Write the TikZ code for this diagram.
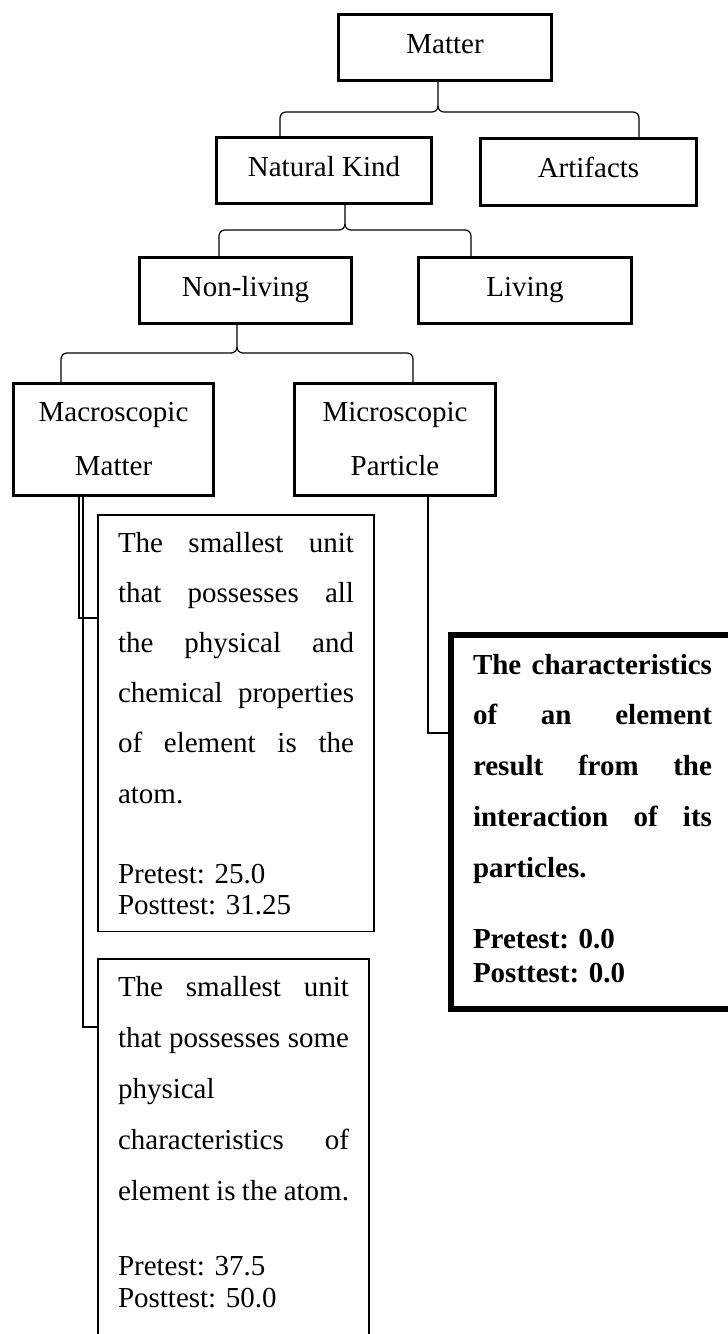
\documentclass[tikz,border=0pt]{standalone}
\usepackage{fontspec}
\setmainfont{Liberation Serif}
\usetikzlibrary{calc}
\setlength{\parindent}{0pt}
\AtBeginDocument{\frenchspacing}
% a line of text spread to a given width
\newcommand\spreadrow[2]{\hbox to #1{\spaceskip=0pt\xspaceskip=0pt #2}}
\begin{document}
\begin{tikzpicture}[x=1pt,y=-1pt,
  every node/.style={outer sep=0pt},
  cat/.style={draw, line width=2.6pt, font=\fontsize{29}{34}\selectfont,
    text height=20pt, text depth=9pt, inner sep=0pt, minimum height=66.4pt},
  cattwo/.style={draw, line width=2.6pt, align=center,
    font=\fontsize{29}{54}\selectfont, inner sep=0pt, minimum height=112.4pt},
  note/.style={draw, line width=1.8pt, anchor=north west, inner xsep=20pt,
    inner ysep=0pt},
  keynote/.style={note, line width=6pt, inner xsep=22pt},
  link/.style={line width=1.2pt},
]
\useasboundingbox (0,0) rectangle (728,1334);
\clip (0,0) rectangle (728,1334);

% category boxes
\node[cat, minimum width=213.4pt] (mat) at (445,47.5) {Matter};
\node[cat, minimum width=215.4pt] (nk) at (324,170.5) {Natural Kind};
\node[cat, minimum width=216.4pt, minimum height=67.4pt] (art) at (588.5,172) {Artifacts};
\node[cat, minimum width=212.4pt] (nl) at (245.5,290.5) {Non-living};
\node[cat, minimum width=213.4pt] (liv) at (525,290.5) {Living};
\node[cattwo, minimum width=200.4pt] (mac) at (113.5,439.5) {Macroscopic\\Matter};
\node[cattwo, minimum width=201.4pt] (mic) at (395,439.5) {Microscopic\\Particle};

% statement boxes
\node[note, text width=236pt, font=\fontsize{29}{50.2}\selectfont] (b1) at (98,515) {%
\rule{0pt}{37pt}\spreadrow{236pt}{The smallest unit}\par
\spreadrow{236pt}{that possesses all}\par
\spreadrow{236pt}{the physical and}\par
\spreadrow{236pt}{chemical properties}\par
\spreadrow{236pt}{of element is the}\par
atom.\par
\vspace{48.5pt}%
{\fontsize{29}{31.5}\selectfont Pretest: 25.0\par
Posttest: 31.25\rule[-17pt]{0pt}{17pt}\par}};

\node[note, text width=231pt, font=\fontsize{29}{51}\selectfont] (b2) at (98,959) {%
\rule{0pt}{37pt}\spreadrow{231pt}{The smallest unit}\par
\spreadrow{231pt}{that possesses some}\par
physical\par
\spreadrow{231pt}{characteristics of}\par
\spreadrow{231pt}{element is the atom.}\par
\vspace{43pt}%
{\fontsize{29}{32}\selectfont Pretest: 37.5\par
Posttest: 50.0\rule[-60pt]{0pt}{60pt}\par}};

\node[keynote, text width=239pt, font=\bfseries\fontsize{29}{50.75}\selectfont] (b3) at (451,635) {%
\rule{0pt}{39pt}\spreadrow{239pt}{The characteristics}\par
\spreadrow{239pt}{of an element}\par
\spreadrow{239pt}{result from the}\par
\spreadrow{239pt}{interaction of its}\par
particles.\par
\vspace{37pt}%
{\fontsize{29}{34}\selectfont Pretest: 0.0\par
Posttest: 0.0\rule[-27pt]{0pt}{27pt}\par}};

% brace-shaped forks
\coordinate (f1) at (438,112); \coordinate (f1l) at (280,112); \coordinate (f1r) at (639,112);
\draw[link] (f1l |- nk.north) -- ($(f1l)+(0,6)$) to[out=90,in=180] ($(f1l)+(6,0)$)
  -- ($(f1)+(-6,0)$) to[out=0,in=-90] ($(f1)+(0,-6)$) -- (f1 |- mat.south);
\draw[link] (f1r |- art.north) -- ($(f1r)+(0,6)$) to[out=90,in=0] ($(f1r)+(-6,0)$)
  -- ($(f1)+(6,0)$) to[out=180,in=-90] ($(f1)+(0,-6)$);

\coordinate (f2) at (345,230); \coordinate (f2l) at (219,230); \coordinate (f2r) at (471,230);
\draw[link] (f2l |- nl.north) -- ($(f2l)+(0,6)$) to[out=90,in=180] ($(f2l)+(6,0)$)
  -- ($(f2)+(-6,0)$) to[out=0,in=-90] ($(f2)+(0,-6)$) -- (f2 |- nk.south);
\draw[link] (f2r |- liv.north) -- ($(f2r)+(0,6)$) to[out=90,in=0] ($(f2r)+(-6,0)$)
  -- ($(f2)+(6,0)$) to[out=180,in=-90] ($(f2)+(0,-6)$);

\coordinate (f3) at (237,353); \coordinate (f3l) at (61,353); \coordinate (f3r) at (413,353);
\draw[link] (f3l |- mac.north) -- ($(f3l)+(0,6)$) to[out=90,in=180] ($(f3l)+(6,0)$)
  -- ($(f3)+(-6,0)$) to[out=0,in=-90] ($(f3)+(0,-6)$) -- (f3 |- nl.south);
\draw[link] (f3r |- mic.north) -- ($(f3r)+(0,6)$) to[out=90,in=0] ($(f3r)+(-6,0)$)
  -- ($(f3)+(6,0)$) to[out=180,in=-90] ($(f3)+(0,-6)$);

% elbow links to the statement boxes
\coordinate (jA) at (79,618);
\coordinate (jB) at (83,1027);
\coordinate (jC) at (428,733);
\draw[link] (jA |- mac.south) -- (jA) -- (jA -| b1.west);
\draw[link] (jB |- mac.south) -- (jB) -- (jB -| b2.west);
\draw[link] (jC |- mic.south) -- (jC) -- (jC -| b3.west);
\end{tikzpicture}
\end{document}
